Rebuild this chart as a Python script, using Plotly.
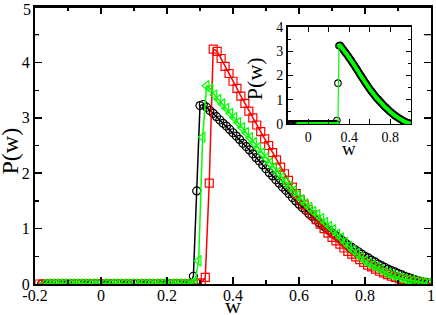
import plotly.graph_objects as go

# ---------------- data ----------------
black_w = [-0.18, -0.17, -0.16, -0.15, -0.14, -0.13, -0.12, -0.11, -0.10, -0.09,
           -0.08, -0.07, -0.06, -0.05, -0.04, -0.03, -0.02, -0.01, 0.00, 0.01,
           0.02, 0.03, 0.04, 0.05, 0.06, 0.07, 0.08, 0.09, 0.10, 0.11,
           0.12, 0.13, 0.14, 0.15, 0.16, 0.17, 0.18, 0.19, 0.20, 0.21,
           0.22, 0.23, 0.24, 0.25, 0.26, 0.27, 0.28, 0.29, 0.30, 0.31,
           0.32, 0.33, 0.34, 0.35, 0.36, 0.37, 0.38, 0.39, 0.40, 0.41,
           0.42, 0.43, 0.44, 0.45, 0.46, 0.47, 0.48, 0.49, 0.50, 0.51,
           0.52, 0.53, 0.54, 0.55, 0.56, 0.57, 0.58, 0.59, 0.60, 0.61,
           0.62, 0.63, 0.64, 0.65, 0.66, 0.67, 0.68, 0.69, 0.70, 0.71,
           0.72, 0.73, 0.74, 0.75, 0.76, 0.77, 0.78, 0.79, 0.80, 0.81,
           0.82, 0.83, 0.84, 0.85, 0.86, 0.87, 0.88, 0.89, 0.90, 0.91,
           0.92, 0.93, 0.94, 0.95, 0.96, 0.97, 0.98, 0.99, 1.00]
black_p = [0, 0, 0, 0, 0, 0, 0, 0, 0, 0,
           0, 0, 0, 0, 0, 0, 0, 0, 0, 0,
           0, 0, 0, 0, 0, 0, 0, 0, 0, 0,
           0, 0, 0, 0, 0, 0, 0, 0, 0, 0,
           0, 0, 0, 0, 0, 0.01, 0.14, 1.68, 3.22,
           3.24, 3.19, 3.13, 3.08, 3.02, 2.96, 2.90, 2.85, 2.79, 2.73,
           2.67, 2.61, 2.54, 2.48, 2.42, 2.35, 2.28, 2.22, 2.15, 2.08,
           2.01, 1.95, 1.88, 1.82, 1.75, 1.69, 1.63, 1.56, 1.50, 1.44,
           1.38, 1.33, 1.27, 1.22, 1.16, 1.11, 1.06, 1.02, 0.97, 0.92,
           0.88, 0.83, 0.79, 0.74, 0.70, 0.66, 0.62, 0.58, 0.54, 0.50,
           0.47, 0.43, 0.40, 0.36, 0.33, 0.30, 0.27, 0.24, 0.22, 0.19,
           0.17, 0.14, 0.12, 0.10, 0.08, 0.06, 0.05, 0.03, 0.02, 0.01]

red_w = [-0.188, -0.176, -0.164, -0.152, -0.140, -0.128, -0.116, -0.104, -0.092, -0.080,
         -0.068, -0.056, -0.044, -0.032, -0.020, -0.008, 0.004, 0.016, 0.028, 0.040,
         0.052, 0.064, 0.076, 0.088, 0.100, 0.112, 0.124, 0.136, 0.148, 0.160,
         0.172, 0.184, 0.196, 0.208, 0.220, 0.232, 0.244, 0.256, 0.268, 0.280,
         0.292, 0.304, 0.316, 0.328, 0.340, 0.352, 0.364, 0.376, 0.388, 0.400,
         0.412, 0.424, 0.436, 0.448, 0.460, 0.472, 0.484, 0.496, 0.508, 0.520,
         0.532, 0.544, 0.556, 0.568, 0.580, 0.592, 0.604, 0.616, 0.628, 0.640,
         0.652, 0.664, 0.676, 0.688, 0.700, 0.712, 0.724, 0.736, 0.748, 0.760,
         0.772, 0.784, 0.796, 0.808, 0.820, 0.832, 0.844, 0.856, 0.868, 0.880,
         0.892, 0.904, 0.916, 0.928, 0.940, 0.952, 0.964, 0.976, 0.988, 1.000]
red_p = [0, 0, 0, 0, 0, 0, 0, 0, 0, 0,
         0, 0, 0, 0, 0, 0, 0, 0, 0, 0,
         0, 0, 0, 0, 0, 0, 0, 0, 0, 0,
         0, 0, 0, 0, 0, 0, 0, 0, 0, 0,
         0, 0.02, 0.12, 1.82, 4.24, 4.20,
         4.07, 3.93, 3.80, 3.66, 3.53, 3.39, 3.26, 3.12, 3.00, 2.87,
         2.75, 2.62, 2.50, 2.37, 2.24, 2.11, 1.99, 1.87, 1.75, 1.63,
         1.52, 1.43, 1.34, 1.25, 1.16, 1.08, 1.00, 0.92, 0.84, 0.78,
         0.72, 0.65, 0.59, 0.54, 0.49, 0.44, 0.39, 0.34, 0.31, 0.27,
         0.23, 0.20, 0.17, 0.14, 0.12, 0.095, 0.08, 0.066, 0.052, 0.04,
         0.032, 0.025, 0.017, 0.01]

green_w = [-0.172, -0.160, -0.148, -0.136, -0.124, -0.112, -0.100, -0.088, -0.076, -0.064,
           -0.052, -0.040, -0.028, -0.016, -0.004, 0.008, 0.020, 0.032, 0.044, 0.056,
           0.068, 0.080, 0.092, 0.104, 0.116, 0.128, 0.140, 0.152, 0.164, 0.176,
           0.188, 0.200, 0.212, 0.224, 0.236, 0.248, 0.260, 0.272, 0.284, 0.296,
           0.308, 0.320, 0.332, 0.344, 0.356, 0.368, 0.380, 0.392, 0.404, 0.416,
           0.428, 0.440, 0.452, 0.464, 0.476, 0.488, 0.500, 0.512, 0.524, 0.536,
           0.548, 0.560, 0.572, 0.584, 0.596, 0.608, 0.620, 0.632, 0.644, 0.656,
           0.668, 0.680, 0.692, 0.704, 0.716, 0.728, 0.740, 0.752, 0.764, 0.776,
           0.788, 0.800, 0.812, 0.824, 0.836, 0.848, 0.860, 0.872, 0.884, 0.896,
           0.908, 0.920, 0.932, 0.944, 0.956, 0.968, 0.980, 0.992]
green_p = [0, 0, 0, 0, 0, 0, 0, 0, 0, 0,
           0, 0, 0, 0, 0, 0, 0, 0, 0, 0,
           0, 0, 0, 0, 0, 0, 0, 0, 0, 0,
           0, 0, 0, 0, 0, 0, 0, 0,
           0.03, 0.42, 2.65, 3.58, 3.52,
           3.41, 3.33, 3.25, 3.17, 3.08, 3.00, 2.91, 2.82, 2.73, 2.64,
           2.55, 2.46, 2.36, 2.27, 2.18, 2.10, 2.01, 1.92, 1.84, 1.76,
           1.68, 1.60, 1.52, 1.45, 1.38, 1.31, 1.25, 1.18, 1.11, 1.04,
           0.98, 0.90, 0.83, 0.75, 0.68, 0.61, 0.55, 0.48, 0.42, 0.38,
           0.34, 0.30, 0.26, 0.22, 0.19, 0.16, 0.13, 0.11, 0.09, 0.075,
           0.06, 0.045, 0.035, 0.025, 0.015]

inset_green_w = [-0.10, -0.09, -0.08, -0.07, -0.06, -0.05, -0.04, -0.03, -0.02, -0.01,
                 0.00, 0.01, 0.02, 0.03, 0.04, 0.05, 0.06, 0.07, 0.08, 0.09,
                 0.10, 0.11, 0.12, 0.13, 0.14, 0.15, 0.16, 0.17, 0.18, 0.19,
                 0.20, 0.21, 0.22, 0.23, 0.24, 0.25, 0.26, 0.27, 0.28, 0.29,
                 0.30, 0.31, 0.32, 0.33, 0.34, 0.35, 0.36, 0.37, 0.38, 0.39,
                 0.40, 0.41, 0.42, 0.43, 0.44, 0.45, 0.46, 0.47, 0.48, 0.49,
                 0.50, 0.51, 0.52, 0.53, 0.54, 0.55, 0.56, 0.57, 0.58, 0.59,
                 0.60, 0.61, 0.62, 0.63, 0.64, 0.65, 0.66, 0.67, 0.68, 0.69,
                 0.70, 0.71, 0.72, 0.73, 0.74, 0.75, 0.76, 0.77, 0.78, 0.79,
                 0.80, 0.81, 0.82, 0.83, 0.84, 0.85, 0.86, 0.87, 0.88, 0.89,
                 0.90, 0.91, 0.92, 0.93, 0.94, 0.95, 0.96, 0.97, 0.98, 0.99]
inset_green_p = [0, 0, 0, 0, 0, 0, 0, 0, 0, 0,
                 0, 0, 0, 0, 0, 0, 0, 0, 0, 0,
                 0, 0, 0, 0, 0, 0, 0, 0, 0, 0,
                 0, 0, 0, 0, 0, 0, 0, 0, 0, 0,
                 3.22, 3.24, 3.19, 3.13, 3.08, 3.02, 2.96, 2.90, 2.85, 2.79,
                 2.73, 2.67, 2.61, 2.54, 2.48, 2.42, 2.35, 2.28, 2.22, 2.15,
                 2.08, 2.01, 1.95, 1.88, 1.82, 1.75, 1.69, 1.63, 1.56, 1.50,
                 1.44, 1.38, 1.33, 1.27, 1.22, 1.16, 1.11, 1.06, 1.02, 0.97,
                 0.92, 0.88, 0.83, 0.79, 0.74, 0.70, 0.66, 0.62, 0.58, 0.54,
                 0.50, 0.47, 0.43, 0.40, 0.36, 0.33, 0.30, 0.27, 0.24, 0.22,
                 0.19, 0.17, 0.14, 0.12, 0.10, 0.08, 0.06, 0.05, 0.03, 0.02]

main_xticks = [-0.2, 0, 0.2, 0.4, 0.6, 0.8, 1]
main_xticklabels = ["-0.2", "0", "0.2", "0.4", "0.6", "0.8", "1"]
main_yticks = [0, 1, 2, 3, 4]
main_top_label = "5"
inset_xticks = [0, 0.4, 0.8]
inset_xticklabels = ["0", "0.4", "0.8"]
inset_yticks = [0, 1, 2, 3, 4]

# ---------------- figure ----------------
FONT = "Liberation Serif"
BLACK = "#000000"
RED = "#ff0000"
GREEN = "#00ff00"

fig = go.Figure()

fig.add_trace(go.Scatter(x=black_w, y=black_p, mode="lines+markers",
                         line=dict(color=BLACK, width=1.5),
                         marker=dict(symbol="circle-open", size=8, color=BLACK,
                                     line=dict(width=1.2, color=BLACK)),
                         xaxis="x", yaxis="y", showlegend=False))
fig.add_trace(go.Scatter(x=red_w, y=red_p, mode="lines+markers",
                         line=dict(color=RED, width=1.5),
                         marker=dict(symbol="square-open", size=8, color=RED,
                                     line=dict(width=1.2, color=RED)),
                         xaxis="x", yaxis="y", showlegend=False))
fig.add_trace(go.Scatter(x=green_w, y=green_p, mode="lines+markers",
                         line=dict(color=GREEN, width=1.5),
                         marker=dict(symbol="triangle-left-open", size=9, color=GREEN,
                                     line=dict(width=1.2, color=GREEN)),
                         xaxis="x", yaxis="y", showlegend=False))

# inset
fig.add_trace(go.Scatter(x=black_w, y=black_p, mode="markers",
                         marker=dict(symbol="circle-open", size=6.5, color=BLACK,
                                     line=dict(width=1.1, color=BLACK)),
                         xaxis="x2", yaxis="y2", showlegend=False))
fig.add_trace(go.Scatter(x=inset_green_w, y=inset_green_p, mode="lines+markers",
                         line=dict(color=GREEN, width=1.2),
                         marker=dict(symbol="circle", size=4, color=GREEN),
                         xaxis="x2", yaxis="y2", showlegend=False))

main_axis_common = dict(showline=True, linecolor=BLACK, linewidth=2, mirror="ticks",
                        ticks="inside", tickcolor=BLACK, tickwidth=1.5, ticklen=7,
                        showgrid=False, zeroline=False, automargin=False,
                        ticklabeloverflow="allow",
                        tickfont=dict(family=FONT, size=16, color=BLACK))
inset_axis_common = dict(showline=True, linecolor=BLACK, linewidth=1.5, mirror="ticks",
                         ticks="inside", tickcolor=BLACK, tickwidth=1.2, ticklen=5,
                         showgrid=False, zeroline=False, automargin=False,
                         ticklabeloverflow="allow",
                         tickfont=dict(family=FONT, size=14, color=BLACK))

X0, X1 = 0.638, 0.949
Y0, Y1 = 0.578, 0.928

fig.update_layout(
    width=436, height=315,
    margin=dict(l=35, r=5, t=7, b=31),
    paper_bgcolor="white", plot_bgcolor="white",
    font=dict(family=FONT, color=BLACK),
    xaxis=dict(range=[-0.2, 1.0], domain=[0, 1], anchor="y",
               tickvals=main_xticks, ticktext=main_xticklabels,
               ticklabelstandoff=-4,
               minor=dict(dtick=0.1, tick0=0, ticks="inside", ticklen=4,
                          tickcolor=BLACK, tickwidth=1.2),
               **main_axis_common),
    yaxis=dict(range=[0, 5], domain=[0, 1], anchor="x",
               tickvals=main_yticks,
               minor=dict(dtick=0.5, tick0=0, ticks="inside", ticklen=4,
                          tickcolor=BLACK, tickwidth=1.2),
               **main_axis_common),
    xaxis2=dict(range=[-0.2, 1.0], domain=[X0, X1], anchor="y2",
                tickvals=inset_xticks, ticktext=inset_xticklabels,
                minor=dict(dtick=0.2, tick0=0, ticks="inside", ticklen=5,
                           tickcolor=BLACK, tickwidth=1.2),
                **inset_axis_common),
    yaxis2=dict(range=[0, 4], domain=[Y0, Y1], anchor="x2",
                tickvals=inset_yticks,
                minor=dict(dtick=0.5, tick0=0, ticks="inside", ticklen=3,
                           tickcolor=BLACK, tickwidth=1.0),
                **inset_axis_common),
    shapes=[
        dict(type="line", xref="paper", yref="paper", x0=0, x1=1, y0=1, y1=1,
             line=dict(color=BLACK, width=2), layer="above"),
        dict(type="line", xref="paper", yref="y", x0=1, x1=0.982, y0=4.5, y1=4.5,
             line=dict(color=BLACK, width=1.2), layer="above"),
        dict(type="line", xref="paper", yref="y", x0=0, x1=0.01, y0=4.5, y1=4.5,
             line=dict(color=BLACK, width=1.2), layer="above"),
    ],
    annotations=[
        dict(text=main_top_label, x=0, y=5, xref="paper", yref="y",
             showarrow=False, xanchor="right", yanchor="middle", xshift=-2, yshift=-2,
             font=dict(family=FONT, size=16, color=BLACK)),
        dict(text="w", x=0.5, y=-0.13, xref="paper", yref="paper",
             showarrow=False, xanchor="center", yanchor="bottom",
             font=dict(family=FONT, size=22, color=BLACK)),
        dict(text="P(w)", x=-0.062, y=0.48, xref="paper", yref="paper",
             showarrow=False, xanchor="center", yanchor="middle", textangle=-90,
             font=dict(family=FONT, size=24, color=BLACK)),
        dict(text="w", x=(X0 + X1) / 2, y=Y0 - 0.09, xref="paper", yref="paper",
             showarrow=False, xanchor="center", yanchor="middle",
             font=dict(family=FONT, size=19, color=BLACK)),
        dict(text="P(w)", x=X0 - 0.085, y=(Y0 + Y1) / 2 - 0.01, xref="paper", yref="paper",
             showarrow=False, xanchor="center", yanchor="middle", textangle=-90,
             font=dict(family=FONT, size=22, color=BLACK)),
    ],
)

fig.write_html("out.html",
               config={"displayModeBar": False, "staticPlot": True},
               post_script="document.body.style.margin='0';document.body.style.padding='0';")
